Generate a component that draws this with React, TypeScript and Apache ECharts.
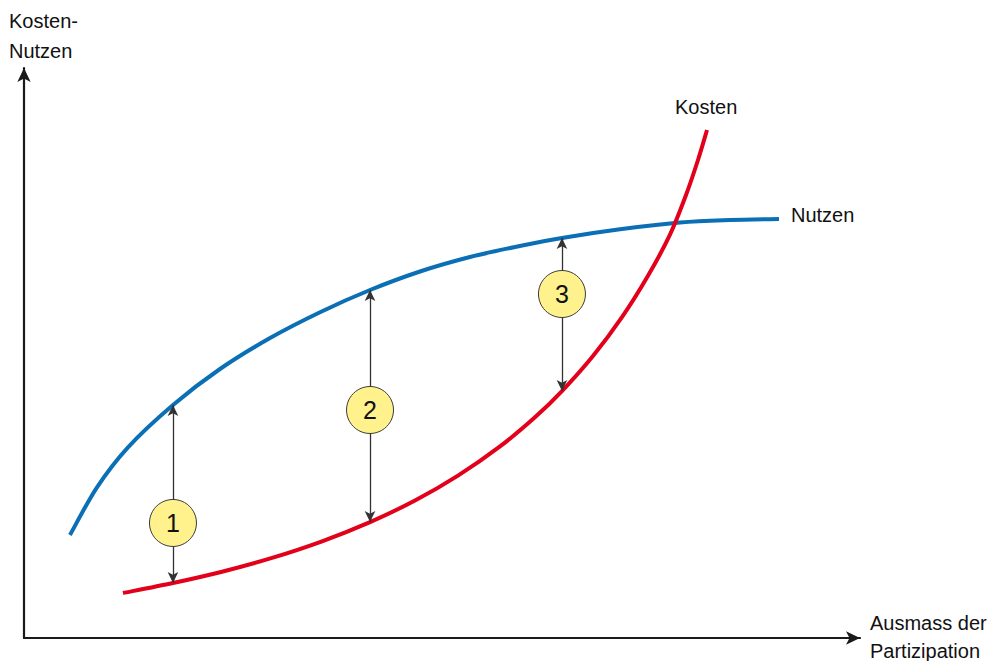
import React, { useEffect, useRef } from "react";
import * as echarts from "echarts";

// Curves in abstract units (x: 0..100 Partizipation, y: 0..100 Kosten-Nutzen)
const nutzenX = [5.5, 8.73, 12.44, 17.82, 23.44, 29.43, 35.41, 41.39, 47.37, 53.35, 59.33, 64.35, 71.29, 78.47, 84.45, 90.31];
const nutzenY = [18.07, 26.44, 33.46, 40.88, 47.19, 52.63, 57.16, 61.05, 64.3, 66.84, 68.77, 70.18, 71.7, 72.89, 73.33, 73.51];

const kostenX = [11.84, 17.82, 23.68, 29.67, 35.65, 41.39, 46.77, 51.91, 56.94, 61.12, 64.35, 68.06, 71.53, 74.64, 77.27, 79.19, 80.62, 81.7];
const kostenY = [7.89, 9.65, 11.63, 14.05, 16.96, 20.33, 24.12, 28.49, 33.61, 38.72, 43.32, 49.47, 56.28, 63.54, 70.77, 77.72, 83.86, 89.12];

// Numbered differences
const markerLabels = ["1", "2", "3"];
const arrowX = [17.82, 41.39, 64.35];
const arrowTop = [40.88, 61.05, 70.18];
const arrowBottom = [9.65, 20.33, 43.32];
const circleY = [20.18, 40.0, 60.35];

const axisXLabel = "Ausmass der\nPartizipation";
const axisYLabel = "Kosten-\nNutzen";
const kostenLabel = "Kosten";
const nutzenLabel = "Nutzen";

function curveSeries(name: string, xs: number[], ys: number[], color: string) {
  return {
    type: "custom",
    name,
    coordinateSystem: "cartesian2d",
    data: xs.map((x, i) => [x, ys[i]]),
    encode: { x: 0, y: 1 },
    silent: true,
    z: 3,
    renderItem: (params: any, api: any) => {
      if (params.dataIndex !== 0) return null;
      const pts = xs.map((x, i) => api.coord([x, ys[i]]));
      const n = pts.length;
      let d = `M${pts[0][0]},${pts[0][1]}`;
      for (let i = 0; i < n - 1; i++) {
        const p0 = pts[Math.max(i - 1, 0)];
        const p1 = pts[i];
        const p2 = pts[i + 1];
        const p3 = pts[Math.min(i + 2, n - 1)];
        const c1x = p1[0] + (p2[0] - p0[0]) / 6;
        const c1y = p1[1] + (p2[1] - p0[1]) / 6;
        const c2x = p2[0] - (p3[0] - p1[0]) / 6;
        const c2y = p2[1] - (p3[1] - p1[1]) / 6;
        d += ` C${c1x},${c1y} ${c2x},${c2y} ${p2[0]},${p2[1]}`;
      }
      return {
        type: "path",
        shape: { pathData: d },
        style: { stroke: color, lineWidth: 4, fill: "none", lineCap: "butt" },
      };
    },
  };
}

export default function App() {
  const ref = useRef<HTMLDivElement>(null);
  useEffect(() => {
    if (!ref.current) return;
    const chart = echarts.init(ref.current, null, { renderer: "svg" });
    const font = "'Liberation Sans', Arial, sans-serif";
    const axisLineStyle = { color: "#1a1a1a", width: 2.2 };
    chart.setOption({
      animation: false,
      backgroundColor: "#ffffff",
      grid: { left: 24, right: 129, top: 68, bottom: 23, containLabel: false },
      xAxis: {
        type: "value",
        min: 0,
        max: 100,
        axisLine: { show: true, lineStyle: axisLineStyle, symbol: ["none", "arrow"], symbolSize: [10, 14], symbolOffset: [0, 0] },
        axisTick: { show: false },
        axisLabel: { show: false },
        splitLine: { show: false },
      },
      yAxis: {
        type: "value",
        min: 0,
        max: 100,
        axisLine: { show: true, lineStyle: axisLineStyle, symbol: ["none", "arrow"], symbolSize: [10, 14], symbolOffset: [0, 0] },
        axisTick: { show: false },
        axisLabel: { show: false },
        splitLine: { show: false },
      },
      series: [
        curveSeries(nutzenLabel, nutzenX, nutzenY, "#0a6fb5"),
        curveSeries(kostenLabel, kostenX, kostenY, "#e2001a"),
        {
          type: "line",
          name: "arrows",
          data: [],
          silent: true,
          markLine: {
            silent: true,
            symbol: ["arrow", "arrow"],
            symbolSize: [8, 11],
            label: { show: false },
            lineStyle: { color: "#333333", width: 1.3, type: "solid" },
            data: arrowX.map((x, i) => [
              { coord: [x, arrowTop[i]] },
              { coord: [x, arrowBottom[i]] },
            ]),
          },
          z: 4,
        },
        {
          type: "scatter",
          name: "markers",
          data: arrowX.map((x, i) => ({ value: [x, circleY[i]], name: markerLabels[i] })),
          symbol: "circle",
          symbolSize: 47,
          itemStyle: { color: "#fff28c", borderColor: "#3a3a3a", borderWidth: 1, opacity: 1 },
          label: {
            show: true,
            position: "inside",
            formatter: (p: any) => p.name,
            color: "#111111",
            fontSize: 25,
            fontFamily: font,
          },
          z: 5,
        },
      ],
      graphic: [
        { type: "text", left: 9, top: 6, style: { text: axisYLabel, font: `20px ${font}`, fill: "#111", lineHeight: 30 } },
        { type: "text", left: 870, top: 609, style: { text: axisXLabel, font: `20px ${font}`, fill: "#111", lineHeight: 28 } },
        { type: "text", left: 675, top: 97, style: { text: kostenLabel, font: `20px ${font}`, fill: "#111" } },
        { type: "text", left: 791, top: 205, style: { text: nutzenLabel, font: `20px ${font}`, fill: "#111" } },
      ],
    });
    return () => chart.dispose();
  }, []);
  return (
    <div
      ref={ref}
      style={{ position: "fixed", left: 0, top: 0, width: 989, height: 661, background: "#fff" }}
    />
  );
}
